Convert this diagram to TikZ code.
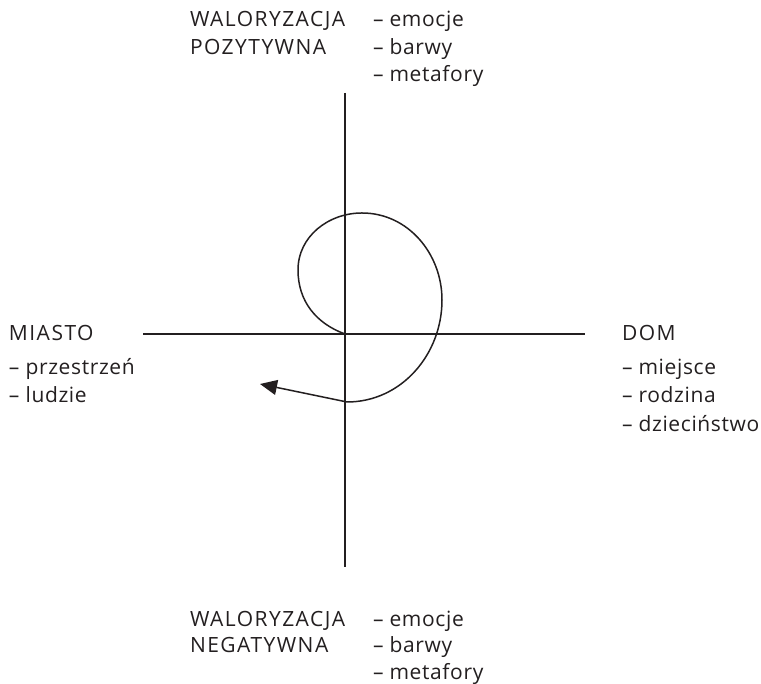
\documentclass[tikz,border=0pt]{standalone}
\usepackage{fontspec}
\setmainfont{Open Sans}[LetterSpace=3]
\newfontfamily\capsfont{Open Sans}[LetterSpace=7]
\usetikzlibrary{arrows.meta}
\definecolor{ink}{HTML}{231F20}
\tikzset{
  lbl/.style={anchor=base west, inner sep=0pt, outer sep=0pt, text=ink, font=\fontsize{21}{26}\selectfont},
  capslbl/.style={lbl, font=\fontsize{21}{26}\capsfont},
  axis/.style={draw=ink, line width=1.2pt},
  path9/.style={draw=ink, line width=1.5pt},
}
\begin{document}
\begin{tikzpicture}[x=1pt,y=1pt]
\useasboundingbox (0,0) rectangle (761,684);
% axes
\coordinate (vtop) at (345,591);
\coordinate (vbot) at (345,117);
\coordinate (hleft) at (143,350);
\coordinate (hright) at (585,350);
\draw[axis] (vtop) -- (vbot);
\draw[axis] (hleft) -- (hright);
% curve
\coordinate (O) at (345,350);
\coordinate (L) at (298,414);
\coordinate (T) at (362,471);
\coordinate (R) at (442,384);
\coordinate (B) at (347,282);
\coordinate (tip) at (260,300);
\draw[path9, -{Triangle[length=17pt,width=15pt]}]
  (O) to[out=160,in=270] (L) to[out=90,in=180] (T) to[out=0,in=90] (R) to[out=270,in=0] (B) -- (tip);
% top
\node[capslbl] (tw) at (190,657) {WALORYZACJA};
\node[capslbl] (tp) at (190,629) {POZYTYWNA};
\node[lbl] (te) at (373,657) {– emocje};
\node[lbl] (tb) at (373,629) {– barwy};
\node[lbl] (tm) at (373,602) {– metafory};
% bottom
\node[capslbl] (bw) at (190,57) {WALORYZACJA};
\node[capslbl] (bn) at (190,31) {NEGATYWNA};
\node[lbl] (be) at (373,57) {– emocje};
\node[lbl] (bb) at (373,31) {– barwy};
\node[lbl] (bm) at (373,4) {– metafory};
% left
\node[capslbl] (mi) at (9,343) {MIASTO};
\node[lbl] (mp) at (9,309) {– przestrzeń};
\node[lbl] (ml) at (9,281) {– ludzie};
% right
\node[capslbl] (dm) at (622,343) {DOM};
\node[lbl] (dj) at (622,309) {– miejsce};
\node[lbl] (dr) at (622,281) {– rodzina};
\node[lbl] (dd) at (622,252) {– dzieciństwo};
\end{tikzpicture}
\end{document}
